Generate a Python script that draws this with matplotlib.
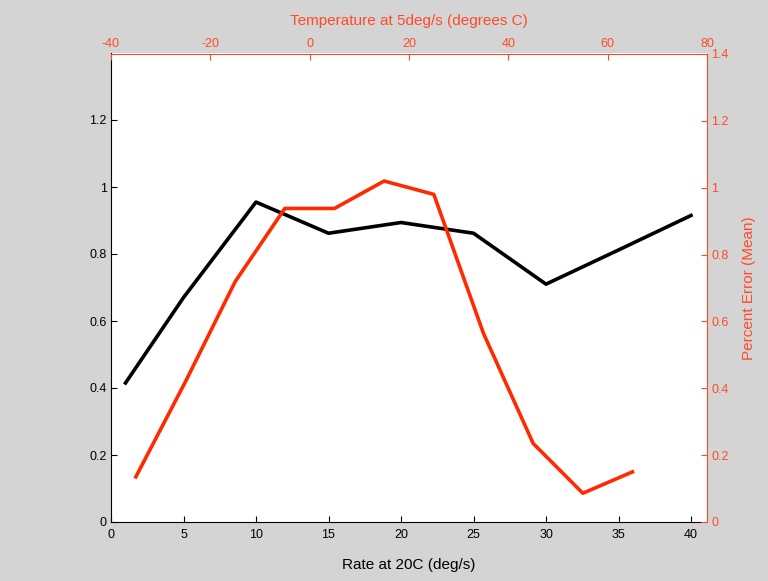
import matplotlib.pyplot as plt

# Black series: rate at 20C vs percent error
rate = [1, 5, 10, 15, 20, 25, 30, 35, 40]
err_rate = [0.415, 0.67, 0.955, 0.862, 0.894, 0.862, 0.71, 0.812, 0.915]

# Red series: temperature at 5deg/s vs percent error
temp = [-35, -25, -15, -5, 5, 15, 25, 35, 45, 55, 65]
err_temp = [0.135, 0.42, 0.719, 0.938, 0.938, 1.02, 0.98, 0.564, 0.235, 0.086, 0.15]

red = '#ff2a00'
spine_red = '#ff4a2a'
plt.rcParams['font.family'] = ['Liberation Sans', 'DejaVu Sans']
plt.rcParams['axes.unicode_minus'] = False

fig = plt.figure(figsize=(7.68, 5.81), dpi=100)
fig.patch.set_facecolor('#d4d4d4')

# black axes (bottom / left)
ax1 = fig.add_axes([111/768, 59/581, 596/768, 469/581])
ax1.plot(rate, err_rate, color='black', lw=2.6)
ax1.set_xlim(0, 596/14.5)
ax1.set_ylim(0, 1.4)
ax1.set_xticks(range(0, 41, 5))
ax1.set_yticks([0, 0.2, 0.4, 0.6, 0.8, 1, 1.2])
ax1.set_yticklabels(['0', '0.2', '0.4', '0.6', '0.8', '1', '1.2'])
ax1.spines['top'].set_visible(False)
ax1.spines['right'].set_visible(False)
ax1.spines['bottom'].set_bounds(0, 40.7)
ax1.tick_params(direction='in', length=4, labelsize=9, pad=3, colors='black')
ax1.tick_params(axis='x', pad=5)
ax1.set_xlabel('Rate at 20C (deg/s)', fontsize=11, labelpad=12)

# red axes (top / right)
ax2 = fig.add_axes([111/768, 59/581, 596/768, 468/581])
ax2.patch.set_alpha(0)
ax2.plot(temp, err_temp, color=red, lw=2.6)
ax2.set_xlim(-40, 80)
ax2.set_ylim(0, 1.4)
ax2.xaxis.tick_top()
ax2.xaxis.set_label_position('top')
ax2.yaxis.tick_right()
ax2.yaxis.set_label_position('right')
ax2.set_xticks(range(-40, 81, 20))
ax2.set_yticks([0, 0.2, 0.4, 0.6, 0.8, 1, 1.2, 1.4])
ax2.set_yticklabels(['0', '0.2', '0.4', '0.6', '0.8', '1', '1.2', '1.4'])
ax2.spines['left'].set_visible(False)
ax2.spines['bottom'].set_bounds(78.8, 80)
for s in ax2.spines.values():
    s.set_color(spine_red)
ax2.tick_params(direction='in', length=4, labelsize=9, pad=3, colors=spine_red)
ax2.set_xlabel('Temperature at 5deg/s (degrees C)', fontsize=11, color=spine_red, labelpad=9)
ax2.set_ylabel('Percent Error (Mean)', fontsize=11, color=spine_red, labelpad=10)

fig.savefig('out.png', dpi=100, facecolor=fig.get_facecolor())
